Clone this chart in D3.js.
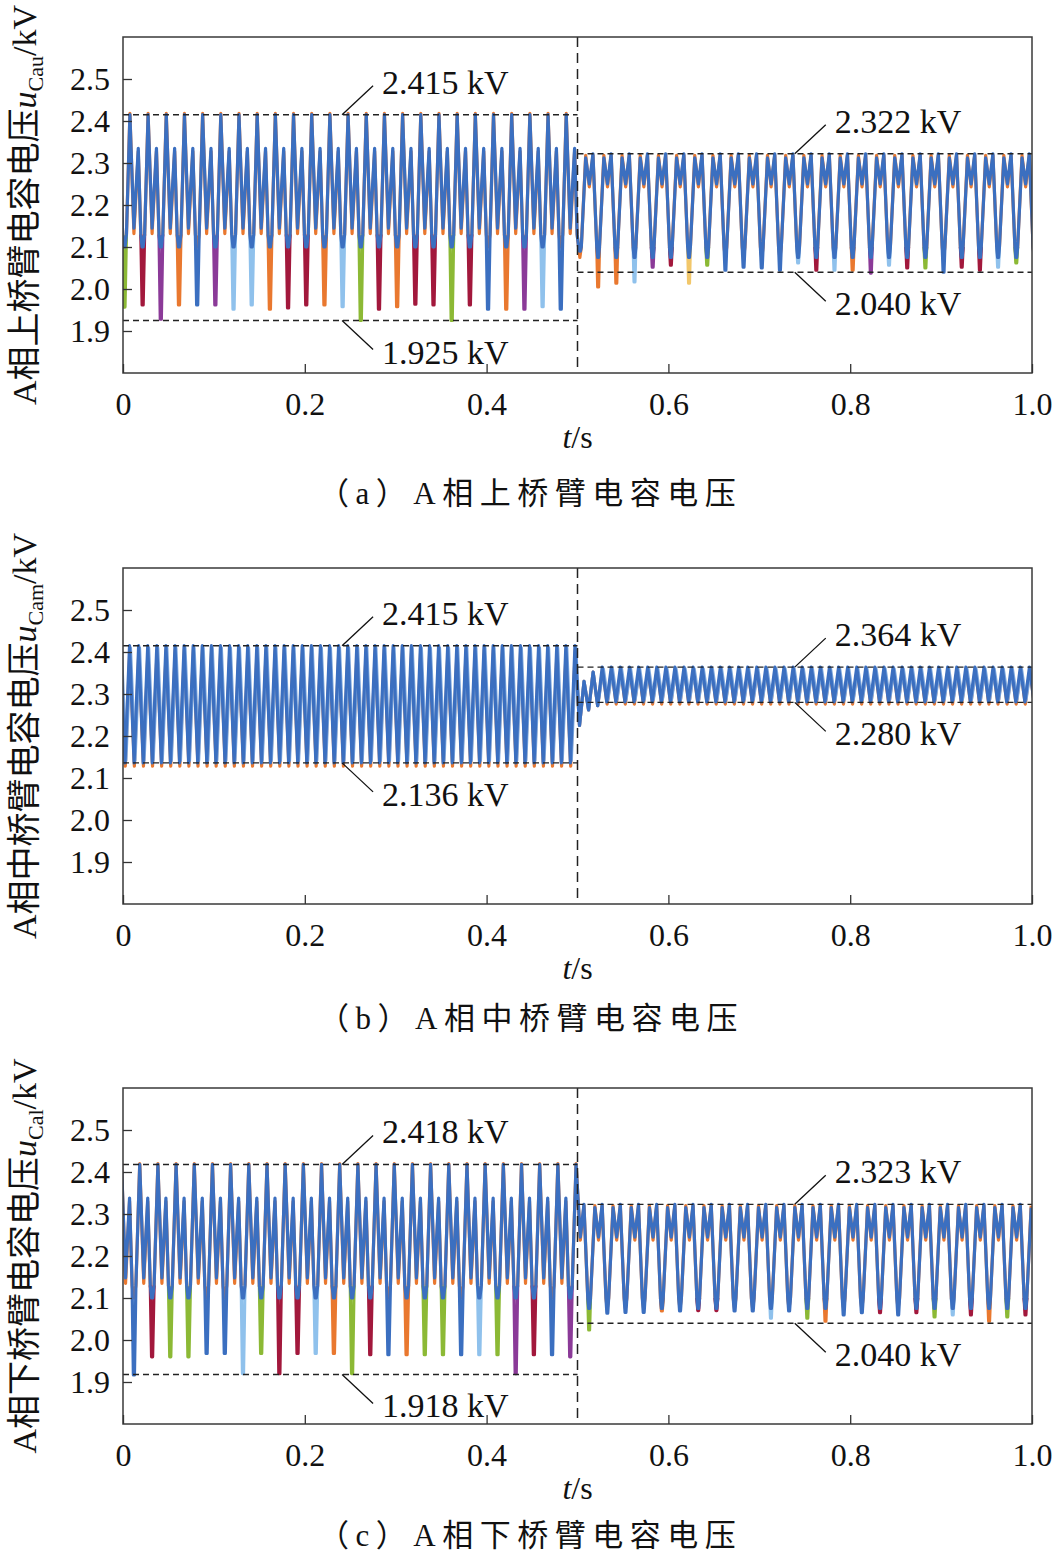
<!DOCTYPE html>
<html>
<head>
<meta charset="utf-8">
<script src="https://cdn.jsdelivr.net/npm/d3@7"></script>
<style>
  body { margin: 0; background: #fff; }
  text { font-family: "Liberation Serif", "Times New Roman", "Noto Sans CJK SC", serif; fill: #111; }
</style>
</head>
<body>
<div id="chart"></div>
<script>
// ---------- data ----------
const xTicks = [0, 0.2, 0.4, 0.6, 0.8, 1.0];
const yTicks = [1.9, 2.0, 2.1, 2.2, 2.3, 2.4, 2.5];

// (a) 上桥臂: one cycle = [phase, kV], "T" = bottom of that cycle's deep trough
const aLeftShape  = [[0, 2.415], [0.22, 2.145], [0.46, 2.335], [0.60, 2.13], [0.67, "T"], [0.73, "T"], [0.81, 2.13]];
const aLeftOrange = [[0, 2.418], [0.22, 2.132], [0.46, 2.328], [0.60, 2.13], [0.70, 2.10], [0.81, 2.13]];
const aLeftTrough = [1.957, 1.962, 1.928, 1.962, 1.962, 1.962, 1.952, 1.962, 1.952, 1.955, 1.962, 1.962, 1.958,
                     1.925, 1.952, 1.958, 1.964, 1.962, 1.925, 1.962, 1.952, 1.952, 1.952, 1.958, 1.952];
const aLeftColor  = ["g","r","p","o","b","p","l","l","o","r","r","o","l","g","r","o","r","r","g","r","b","o","p","l","b"];
const aRightShape  = [[0.02, 2.25], [0.22, 2.322], [0.43, 2.10], [0.48, "T"], [0.53, "T"], [0.58, 2.10], [0.82, 2.312]];
const aRightOrange = [[0.02, 2.243], [0.22, 2.318], [0.43, 2.10], [0.5, 2.075], [0.58, 2.10], [0.82, 2.318]];
const aRightTrough = [2.09, 2.005, 2.014, 2.017, 2.052, 2.057, 2.014, 2.057, 2.045, 2.052, 2.05, 2.045, 2.062,
                      2.045, 2.045, 2.045, 2.038, 2.057, 2.05, 2.05, 2.04, 2.052, 2.045, 2.052, 2.062];
const aRightColor  = ["b","o","o","l","p","r","y","g","b","b","b","b","l","r","l","o","p","l","r","g","b","r","r","l","g"];
const aLevels = [2.415, 1.925, 2.322, 2.040];

// (b) 中桥臂
const bLeftShape  = [[0, 2.415], [0.5, 2.136]];
const bLeftLight  = [[0.1, 2.41], [0.6, 2.142]];
const bLeftOrange = [[0.03, 2.405], [0.53, 2.128]];
const bTransient  = [[0.5022, 2.225], [0.5072, 2.33], [0.5122, 2.262], [0.5172, 2.352], [0.5222, 2.272]];
const bRightShape  = [[0, 2.364], [0.5, 2.281]];
const bRightLight  = [[0.12, 2.36], [0.62, 2.286]];
const bRightOrange = [[0.04, 2.358], [0.54, 2.276]];
const bLevels = [2.415, 2.136, 2.364, 2.280];

// (c) 下桥臂
const cLeftShape  = [[0, 2.418], [0.22, 2.148], [0.44, 2.338], [0.58, 2.13], [0.65, "T"], [0.71, "T"], [0.79, 2.13]];
const cLeftOrange = [[0, 2.42], [0.22, 2.135], [0.44, 2.33], [0.58, 2.13], [0.68, 2.10], [0.79, 2.13]];
const cLeftTrough = [1.917, 1.96, 1.96, 1.96, 1.968, 1.968, 1.92, 1.968, 1.92, 1.968, 1.968, 1.968, 1.92,
                     1.965, 1.965, 1.965, 1.965, 1.965, 1.965, 1.965, 1.965, 1.92, 1.965, 1.965, 1.96];
const cLeftColor  = ["b","r","g","g","b","b","l","g","r","r","l","o","g","r","b","o","g","g","b","l","g","p","r","b","p"];
const cRightShape  = [[0.02, 2.245], [0.22, 2.323], [0.43, 2.10], [0.48, "T"], [0.53, "T"], [0.58, 2.10], [0.82, 2.315]];
const cRightOrange = [[0.02, 2.238], [0.22, 2.32], [0.43, 2.10], [0.5, 2.075], [0.58, 2.10], [0.82, 2.32]];
const cRightTrough = [2.024, 2.064, 2.066, 2.066, 2.069, 2.069, 2.07, 2.07, 2.069, 2.069, 2.052, 2.069, 2.052,
                      2.045, 2.06, 2.065, 2.065, 2.06, 2.065, 2.055, 2.06, 2.06, 2.045, 2.055, 2.06];
const cRightColor  = ["g","b","b","b","o","b","r","r","b","b","l","b","g","o","b","b","r","b","r","g","l","r","o","g","r"];
const cLevels = [2.418, 1.918, 2.323, 2.040];

const palette = { b: "#3b6fc0", l: "#8fc1ec", o: "#e9782f", r: "#a2183c", p: "#8b3a98", g: "#8cb935", y: "#f2c76a" };

// ---------- helpers ----------
// repeat a measured cycle from `start`, keep points inside [from, to)
function trace(start, period, shape, loopEnd, from, to, troughs, colors, floor) {
    const pts = [], dips = [];
    const tIdx = shape.map((s, i) => s[1] === "T" ? i : -1).filter(i => i >= 0);
    for (let k = 0; start + k * period < loopEnd; k++) {
        const c0 = start + k * period;
        const tr = troughs ? troughs[k] : undefined;
        const col = colors ? colors[k] : "b";
        shape.forEach(([ph, v]) => {
            const t = c0 + ph * period;
            if (t < from || t >= to) return;
            if (v === "T") pts.push([t, tr !== undefined && col === "b" ? tr : floor]);
            else pts.push([t, v]);
        });
        if (tIdx.length && tr !== undefined && col !== "b") {
            const seg = shape.slice(tIdx[0] - 1, tIdx[tIdx.length - 1] + 2)
                .map(([ph, v]) => [c0 + ph * period, v === "T" ? tr : v]);
            const mid = c0 + shape[tIdx[0]][0] * period;
            if (mid >= from && mid < to) dips.push({ col: col, pts: seg });
        }
    }
    return { pts, dips };
}

// ---------- layout ----------
const W = 1053, H = 1553;
const plotLeft = 123, plotRight = 1032, plotH = 336;
const x = d3.scaleLinear().domain([0, 1]).range([plotLeft, plotRight]);

const svg = d3.select("#chart").append("svg")
    .attr("width", W).attr("height", H)
    .style("background", "#fff");

function buildAC(lS, lO, lT, lC, lStart, rS, rO, rT, rC, rStart) {
    const L = trace(lStart, 0.02, lS, 0.5, -1, 0.5, lT, lC, 2.10);
    const R = trace(rStart, 0.02, rS, 1.0, 0.5, 2, rT, rC, 2.075);
    const LO = trace(lStart, 0.02, lO, 0.5, -1, 0.5);
    const RO = trace(rStart, 0.02, rO, 1.0, 0.5, 2);
    return {
        under: [{ col: palette.o, pts: LO.pts.concat(RO.pts) }],
        dips: L.dips.concat(R.dips),
        main: L.pts.concat(R.pts)
    };
}

function buildB() {
    const L = trace(-0.0028, 0.01, bLeftShape, 0.5, -1, 0.5);
    const R = trace(0.5272, 0.01, bRightShape, 1.0, 0.5, 2);
    const LL = trace(-0.0028, 0.01, bLeftLight, 0.5, -1, 0.5);
    const RL = trace(0.5272, 0.01, bRightLight, 1.0, 0.5, 2);
    const LO = trace(-0.0028, 0.01, bLeftOrange, 0.5, -1, 0.5);
    const RO = trace(0.5272, 0.01, bRightOrange, 1.0, 0.5, 2);
    return {
        under: [
            { col: palette.o, pts: LO.pts.concat(bTransient, RO.pts) },
            { col: "#7fa9de", pts: LL.pts.concat(bTransient, RL.pts) }
        ],
        dips: [],
        main: L.pts.concat(bTransient, R.pts)
    };
}

const panels = [
    { top: 37, label: "A相上桥臂电容电压", sub: "Cau", caption: "（a）A相上桥臂电容电压", capY: 493, levels: aLevels,
      data: buildAC(aLeftShape, aLeftOrange, aLeftTrough, aLeftColor, -0.0124,
                    aRightShape, aRightOrange, aRightTrough, aRightColor, 0.4926) },
    { top: 568, label: "A相中桥臂电容电压", sub: "Cam", caption: "（b）A相中桥臂电容电压", capY: 1018, levels: bLevels,
      data: buildB() },
    { top: 1088, label: "A相下桥臂电容电压", sub: "Cal", caption: "（c）A相下桥臂电容电压", capY: 1535, levels: cLevels,
      data: buildAC(cLeftShape, cLeftOrange, cLeftTrough, cLeftColor, -0.0016,
                    cRightShape, cRightOrange, cRightTrough, cRightColor, 0.5027) }
];

panels.forEach(function(p, i) {
    const bottom = p.top + plotH;
    const y = d3.scaleLinear().domain([1.8, 2.6]).range([bottom, p.top]);
    const line = d3.line().x(d => x(d[0])).y(d => y(d[1]));
    const g = svg.append("g");

    g.append("clipPath").attr("id", "clip" + i)
        .append("rect")
            .attr("x", plotLeft).attr("y", p.top)
            .attr("width", plotRight - plotLeft).attr("height", plotH);

    const plot = g.append("g").attr("clip-path", `url(#clip${i})`);

    // other submodules underneath
    p.data.under.forEach(function(s) {
        plot.append("path")
            .attr("d", line(s.pts))
            .attr("fill", "none")
            .attr("stroke", s.col)
            .attr("stroke-width", 3.2)
            .attr("stroke-linejoin", "round");
    });

    // deep troughs of the submodule discharged in that cycle
    plot.selectAll(".dip")
        .data(p.data.dips)
        .enter()
        .append("path")
            .attr("d", d => line(d.pts))
            .attr("fill", "none")
            .attr("stroke", d => palette[d.col])
            .attr("stroke-width", 3.2)
            .attr("stroke-linejoin", "round");

    // main trace
    plot.append("path")
        .attr("d", line(p.data.main))
        .attr("fill", "none")
        .attr("stroke", palette.b)
        .attr("stroke-width", 3.2)
        .attr("stroke-linejoin", "round");

    // dashed envelopes
    const lv = p.levels;
    const guides = [[0, 0.5, lv[0]], [0, 0.5, lv[1]], [0.5, 1, lv[2]], [0.5, 1, lv[3]]];
    g.selectAll(".guide")
        .data(guides)
        .enter()
        .append("line")
            .attr("x1", d => x(d[0]))
            .attr("x2", d => x(d[1]))
            .attr("y1", d => y(d[2]))
            .attr("y2", d => y(d[2]))
            .attr("stroke", "#222")
            .attr("stroke-width", 1.4)
            .attr("stroke-dasharray", "6,4");

    // t = 0.5 s
    g.append("line")
        .attr("x1", x(0.5)).attr("x2", x(0.5))
        .attr("y1", p.top).attr("y2", bottom)
        .attr("stroke", "#222")
        .attr("stroke-width", 1.5)
        .attr("stroke-dasharray", "10,6");

    // annotations
    const notes = [[0.241, lv[0], -1], [0.241, lv[1], 1], [0.739, lv[2], -1], [0.739, lv[3], 1]];
    notes.forEach(function(n) {
        const x0 = x(n[0]), y0 = y(n[1]);
        const x1 = x0 + 31, y1 = y0 + n[2] * 29;
        g.append("line")
            .attr("x1", x0).attr("y1", y0).attr("x2", x1).attr("y2", y1)
            .attr("stroke", "#111").attr("stroke-width", 1.3);
        g.append("text")
            .attr("x", x1 + 9)
            .attr("y", n[2] < 0 ? y1 + 8 : y1 + 14)
            .attr("font-size", 34)
            .text(n[1].toFixed(3) + " kV");
    });

    // frame
    g.append("rect")
        .attr("x", plotLeft).attr("y", p.top)
        .attr("width", plotRight - plotLeft).attr("height", plotH)
        .attr("fill", "none")
        .attr("stroke", "#3a3a3a")
        .attr("stroke-width", 1.5);

    // axes (ticks inward)
    const ax = g.append("g")
        .attr("transform", `translate(0, ${bottom})`)
        .call(d3.axisBottom(x).tickValues(xTicks).tickSize(-9).tickPadding(19)
            .tickFormat(d => d === 0 ? "0" : d3.format(".1f")(d)));
    const ay = g.append("g")
        .attr("transform", `translate(${plotLeft}, 0)`)
        .call(d3.axisLeft(y).tickValues(yTicks).tickSize(-9).tickPadding(13).tickFormat(d3.format(".1f")));
    [ax, ay].forEach(function(a) {
        a.select(".domain").remove();
        a.attr("font-family", null).attr("font-size", 32);
        a.selectAll("line").attr("stroke", "#333").attr("stroke-width", 1.3);
        a.selectAll("text").attr("fill", "#111");
    });

    // x title
    const xt = g.append("text")
        .attr("x", x(0.5))
        .attr("y", bottom + 75)
        .attr("text-anchor", "middle")
        .attr("font-size", 32);
    xt.append("tspan").attr("font-style", "italic").text("t");
    xt.append("tspan").text("/s");

    // y title
    const yt = g.append("text")
        .attr("transform", `translate(36, ${p.top + plotH / 2}) rotate(-90)`)
        .attr("text-anchor", "middle")
        .attr("font-size", 34);
    yt.append("tspan").text(p.label);
    yt.append("tspan").attr("font-style", "italic").text("u");
    yt.append("tspan").attr("font-size", 22).attr("dy", 7).text(p.sub);
    yt.append("tspan").attr("dy", -7).text("/kV");

    // caption
    svg.append("text")
        .attr("x", 318)
        .attr("y", p.capY + 11)
        .attr("font-size", 31)
        .attr("letter-spacing", 6.5)
        .text(p.caption);
});
</script>
</body>
</html>
